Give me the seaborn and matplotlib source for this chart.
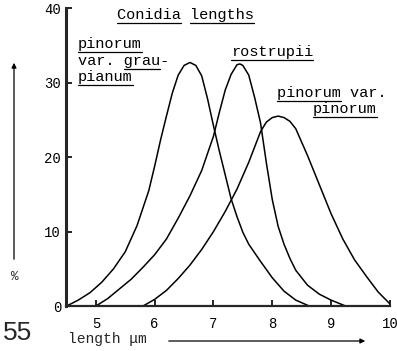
import numpy as np
import pandas as pd
import matplotlib
matplotlib.use("Agg")
import matplotlib.pyplot as plt
import seaborn as sns

# conidia length distributions (length in um, % of conidia)
graup_x = [4.5, 4.7, 4.9, 5.1, 5.3, 5.5, 5.7, 5.9, 6.0, 6.1, 6.2, 6.3, 6.4, 6.5, 6.6,
           6.7, 6.8, 6.9, 7.0, 7.1, 7.2, 7.3, 7.4, 7.5, 7.6, 7.8, 8.0, 8.2, 8.4, 8.63]
graup_y = [0.0, 0.8, 1.8, 3.2, 5.0, 7.3, 10.8, 15.5, 18.8, 22.3, 25.5, 28.6, 31.0, 32.3, 32.7,
           32.3, 30.9, 27.8, 24.2, 20.8, 17.6, 14.4, 12.0, 9.9, 8.3, 6.0, 3.8, 2.0, 0.8, 0.0]

rostr_x = [5.0, 5.2, 5.4, 5.6, 5.8, 6.0, 6.2, 6.4, 6.6, 6.8, 7.0, 7.1, 7.2, 7.3, 7.4, 7.45,
           7.5, 7.6, 7.7, 7.8, 7.9, 8.0, 8.1, 8.2, 8.3, 8.4, 8.6, 8.8, 9.0, 9.25]
rostr_y = [0.0, 1.0, 2.3, 3.6, 5.2, 6.9, 9.0, 11.8, 14.8, 18.2, 22.8, 26.0, 29.0, 31.1, 32.4, 32.5,
           32.3, 31.0, 28.0, 24.6, 19.2, 14.3, 10.7, 8.3, 6.4, 4.8, 2.8, 1.6, 0.8, 0.0]

pinor_x = [5.8, 6.0, 6.2, 6.4, 6.6, 6.8, 7.0, 7.2, 7.4, 7.6, 7.8, 7.9, 8.0, 8.1, 8.2, 8.3,
           8.4, 8.6, 8.8, 9.0, 9.2, 9.4, 9.6, 9.8, 10.0]
pinor_y = [0.0, 0.9, 2.1, 3.7, 5.5, 7.6, 10.0, 12.7, 15.7, 19.3, 23.4, 24.7, 25.3, 25.5, 25.3, 24.8,
           23.8, 20.2, 16.3, 12.4, 9.0, 6.2, 4.0, 1.9, 0.3]

x_ticks = [5, 6, 7, 8, 9, 10]
y_ticks = [0, 10, 20, 30, 40]

df = pd.concat([
    pd.DataFrame({"length": graup_x, "pct": graup_y, "taxon": "graupianum"}),
    pd.DataFrame({"length": rostr_x, "pct": rostr_y, "taxon": "rostrupii"}),
    pd.DataFrame({"length": pinor_x, "pct": pinor_y, "taxon": "pinorum"}),
])

sns.set_style("ticks")
mono = "Liberation Mono"

fig = plt.figure(figsize=(3.97, 3.51), dpi=100)
ax = fig.add_axes([0.166, 0.128, 0.816, 0.849])

sns.lineplot(data=df, x="length", y="pct", units="taxon", estimator=None,
             color="black", linewidth=1.1, sort=False, ax=ax, legend=False)

ax.set_xlim(4.49, 10.0)
ax.set_ylim(0, 40)
ax.set_xticks(x_ticks)
ax.set_yticks(y_ticks)
ax.set_xlabel("")
ax.set_ylabel("")
ax.tick_params(direction="in", length=4, width=1.2, labelsize=10, colors="black")
ax.tick_params(axis="x", pad=8)
for lab in ax.get_xticklabels() + ax.get_yticklabels():
    lab.set_family(mono)
sns.despine(ax=ax)
ax.spines["left"].set_linewidth(2.2)
ax.spines["bottom"].set_linewidth(1.6)

# text labels
labels = [
    ("Conidia lengths", 117, 15, [(0, 7), (8, 15)]),
    ("pinorum", 78, 44, [(0, 7)]),
    ("var. grau-", 78, 61, [(5, 9)]),
    ("pianum", 78, 77, [(0, 6)]),
    ("rostrupii", 231, 52, [(0, 9)]),
    ("pinorum var.", 277, 93, [(0, 7)]),
    ("pinorum", 313, 109, [(0, 7)]),
]
W, H = 397, 351
texts = []
for s, px, py, ul in labels:
    t = fig.text(px / W, 1 - py / H, s, family=mono, fontsize=11,
                 ha="left", va="center", color="black")
    texts.append((t, s, ul))

fig.canvas.draw()
r = fig.canvas.get_renderer()
for t, s, ul in texts:
    bb = t.get_window_extent(r)
    cw = bb.width / len(s)
    y = (bb.y0 - 1) / H
    for a, b in ul:
        fig.add_artist(plt.Line2D([(bb.x0 + a * cw) / W, (bb.x0 + b * cw) / W], [y, y],
                                  color="black", linewidth=0.9))

# axis captions with arrows
fig.text(15 / W, 1 - 277 / H, "%", family=mono, fontsize=9, ha="center", va="center")
fig.add_artist(matplotlib.patches.FancyArrowPatch((14 / W, 1 - 262 / H), (14 / W, 1 - 60 / H),
                                                  transform=fig.transFigure, arrowstyle="-|>",
                                                  mutation_scale=7, linewidth=0.9, color="black"))
fig.text(68 / W, 1 - 339 / H, "length \u03bcm", family=mono, fontsize=10.5, ha="left", va="center")
fig.add_artist(matplotlib.patches.FancyArrowPatch((166 / W, 1 - 341 / H), (368 / W, 1 - 341 / H),
                                                  transform=fig.transFigure, arrowstyle="-|>",
                                                  mutation_scale=7, linewidth=0.9, color="black"))
fig.text(3 / W, 1 - 333 / H, "55", family="Liberation Sans", fontsize=19, ha="left", va="center")

fig.savefig("out.png", dpi=100)
